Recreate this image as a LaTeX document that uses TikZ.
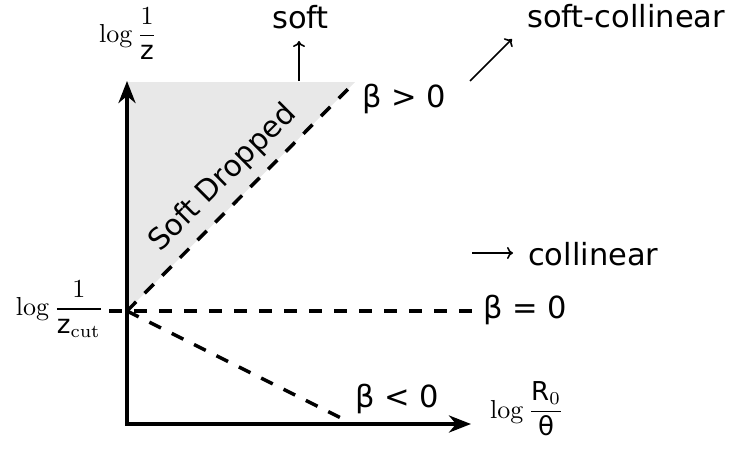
\documentclass[tikz,border=0pt]{standalone}
\usepackage{amsmath}
\usepackage[no-math]{fontspec}
\setmainfont{DejaVu Sans}
\usetikzlibrary{arrows.meta}
\definecolor{sdgray}{HTML}{E8E8E8}
\tikzset{
  lbl/.style={inner sep=0pt, font=\fontsize{30.5}{36}\selectfont},
  mlbl/.style={inner sep=0pt},
  axis/.style={line width=4.3pt, -{Stealth[length=22pt,width=17pt,inset=7pt]}},
  bnd/.style={line width=3.5pt, dash pattern=on 13pt off 12pt},
  thin/.style={line width=1.6pt, -{To[length=6pt,width=12pt]}}
}
\newcommand{\axlabel}[1]{\scalebox{2.6}{$\displaystyle #1$}}
\begin{document}
\begin{tikzpicture}[x=1pt,y=-1pt]
\useasboundingbox (0,0) rectangle (733,458);
% key points
\coordinate (O) at (127,311);
\coordinate (Y0) at (127,424);
\coordinate (Ytop) at (127,81);
\coordinate (Xend) at (471,424);
\coordinate (Tr) at (355,82);
\coordinate (Hl) at (109,311);
\coordinate (Hr) at (472,311);
\coordinate (Ne) at (345,420);
% shaded region
\fill[sdgray] (O) -- (127,82) -- (Tr) -- cycle;
\node[lbl, rotate=45, font=\fontsize{29.5}{34}\selectfont] (sd) at (223,178) {Soft Dropped};
% axes
\draw[axis] (Y0) -- (Ytop);
\draw[line width=4.3pt] (125,424) -- (Y0);
\draw[axis] (125,424) -- (Xend);
% boundaries
\draw[bnd] (O) -- (Tr);
\draw[bnd] (Hl) -- (Hr);
\draw[bnd] (O) -- (Ne);
% labels
\node[mlbl, anchor=base west] (ly) at (99,42) {\axlabel{\log\frac{1}{\text{z}}}};
\node[mlbl, anchor=base east] (lz) at (104,315.5) {\axlabel{\log\frac{1}{\text{z}_{\mathrm{cut}}}}};
\node[mlbl, anchor=base west] (lx) at (490,418) {\axlabel{\log\frac{\text{R}_0}{\text{θ}}}};
\node[lbl, anchor=base west] (soft) at (272,28) {soft};
\node[lbl, anchor=base west] (sc) at (527,27) {soft-collinear};
\node[lbl, anchor=base west] (col) at (528,265) {collinear};
\node[lbl, anchor=base west] (bp) at (362,107) {β > 0};
\node[lbl, anchor=base west] (bz) at (483,318) {β = 0};
\node[lbl, anchor=base west] (bn) at (355,407) {β < 0};
% direction arrows
\coordinate (sa) at (299,81);
\coordinate (sca) at (470,81);
\coordinate (ca) at (472,253);
\draw[thin] (sa) -- (299,41);
\draw[thin] (sca) -- (512,39);
\draw[thin] (ca) -- (513,253);
\end{tikzpicture}
\end{document}
